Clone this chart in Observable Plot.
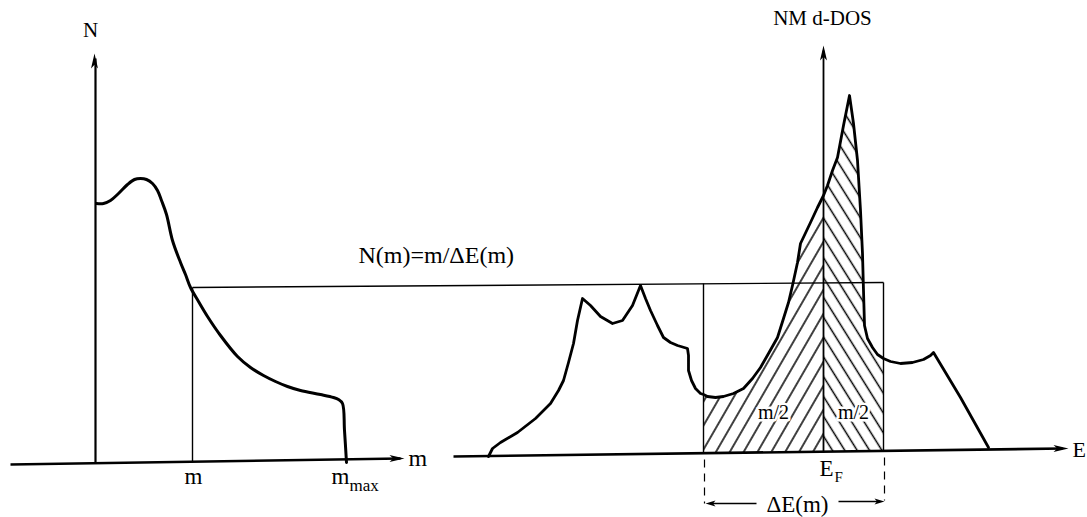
<!DOCTYPE html>
<html><head><meta charset="utf-8">
<script src="https://cdn.jsdelivr.net/npm/d3@7"></script>
<script src="https://cdn.jsdelivr.net/npm/@observablehq/plot@0.6"></script>
<style>html,body{margin:0;padding:0;background:#fff;} svg{display:block;}</style>
</head><body><div id="chart"></div>
<script>
// Schematic in diagram units (x to the right, y measured downward from the top)
// Left panel: N(m) curve
const leftCurveX = [96,103,110,118,127,134,140,146,152,157,161,166,172,180,185,190,198,207,220,237,250,263,275,287,300,320,333,338,342,344,346];
const leftCurveY = [203,203,200,193,184,179,178,179,183,190,200,214,240,262,274,287,301,316,335,356,367,375,381,386,390,394,397,399,403,430,462];
// Right panel: NM d-DOS curve
const dosX = [488,492,500,517,535,550,558,563,568,573,577,582,590,600,612,622,632,640,645,650,657,663,670,677,687,688,688,691,695,700,703,707,715,723,733,743,752,760,768,777,783,788,792,797,800,810,817,823,827,832,837,843,849,853,857,860,862,863,864,867,872,877,883,890,900,912,923,930,933,960,988];
const dosY = [456,448,442,432,418,403,390,380,362,343,320,298,305,316,323,320,305,285,298,310,325,337,342,345,348,355,370,380,388,393,394,396,397,396,393,388,378,367,353,337,318,302,285,262,243,222,207,195,185,170,157,125,95,123,160,210,253,290,325,338,347,354,358,361,363,362,359,355,352,397,447];
// window ΔE(m) and Fermi level
const winLeft = 703, fermi = 823, winRight = 883;
// axes / baselines
const leftBase = {x1: 10, y1: 464, x2: 400, y2: 458};
const rightBase = {x1: 453, y1: 456, x2: 1062, y2: 448};
const leftAxis = {x1: 95, y1: 462, x2: 95, y2: 58};
const rightAxis = {x1: 823, y1: 452, x2: 823, y2: 50};
// thin construction lines
const thinX1 = [192, 192, 703, 883];
const thinY1 = [287, 287, 283, 282];
const thinX2 = [883, 192, 703, 883];
const thinY2 = [282, 462, 453, 450];
// dashed drop lines
const dashX = [704, 884], dashY1 = [459, 457], dashY2 = [503, 500];
// ΔE arrows
const dArrX1 = [756, 838], dArrX2 = [711, 878], dArrY = [503, 501];
// arrow tips
const bigTipX = [94, 823, 404, 1068], bigTipY = [53, 45, 458, 448], bigTipRot = [0, 0, 90, 90];
const smallTipX = [705, 884], smallTipY = [503, 501], smallTipRot = [-90, 90];

const pts = (xs, ys) => xs.map((x, i) => ({x, y: ys[i]}));
const leftCurve = pts(leftCurveX, leftCurveY);
const dos = pts(dosX, dosY);
const baseAt = x => rightBase.y1 + (x - rightBase.x1) * (rightBase.y2 - rightBase.y1) / (rightBase.x2 - rightBase.x1);
const hatchL = dos.filter(d => d.x >= winLeft && d.x <= fermi).map(d => ({...d, b: baseAt(d.x)}));
const hatchR = dos.filter(d => d.x >= fermi && d.x <= winRight).map(d => ({...d, b: baseAt(d.x)}));

const dart = (L, W) => ({draw(ctx) { ctx.moveTo(0, 0); ctx.lineTo(W / 2, L); ctx.lineTo(0, L * 0.75); ctx.lineTo(-W / 2, L); ctx.closePath(); }});
const font = "Liberation Serif, Times New Roman, serif";
const label = (t, x, y, size, anchor = "middle", extra = {}) =>
  Plot.text([t], {x: () => x, y: () => y, text: d => d, fontSize: size, textAnchor: anchor, lineAnchor: "bottom", fontFamily: font, fill: "black", ...extra});
const seg = (s, w) => Plot.link([s], {x1: "x1", y1: "y1", x2: "x2", y2: "y2", stroke: "black", strokeWidth: w});

const chart = Plot.plot({
  width: 1087, height: 517, margin: 0,
  x: {domain: [0, 1087], range: [0, 1087], axis: null},
  y: {domain: [0, 517], range: [0, 517], axis: null},
  style: {background: "white"},
  marks: [
    Plot.areaY(hatchL, {x: "x", y1: "b", y2: "y", fill: "url(#hatchF)", curve: "linear"}),
    Plot.areaY(hatchR, {x: "x", y1: "b", y2: "y", fill: "url(#hatchB)", curve: "linear"}),
    Plot.link(thinX1.map((x, i) => i), {x1: i => thinX1[i], y1: i => thinY1[i], x2: i => thinX2[i], y2: i => thinY2[i], stroke: "black", strokeWidth: 1.4}),
    Plot.link(dashX.map((x, i) => i), {x1: i => dashX[i], y1: i => dashY1[i], x2: i => dashX[i], y2: i => dashY2[i], stroke: "black", strokeWidth: 1.2, strokeDasharray: "8,6"}),
    Plot.link(dArrX1.map((x, i) => i), {x1: i => dArrX1[i], y1: i => dArrY[i], x2: i => dArrX2[i], y2: i => dArrY[i], stroke: "black", strokeWidth: 1.6}),
    seg(leftBase, 2.6), seg(rightBase, 2.6), seg(leftAxis, 2.2), seg(rightAxis, 1.8),
    Plot.line(leftCurve, {x: "x", y: "y", stroke: "black", strokeWidth: 3, curve: "catmull-rom"}),
    Plot.line(dos, {x: "x", y: "y", stroke: "black", strokeWidth: 2.8, curve: "linear", strokeLinejoin: "round"}),
    Plot.dot(bigTipX.map((x, i) => i), {x: i => bigTipX[i], y: i => bigTipY[i], rotate: i => bigTipRot[i], symbol: dart(15, 7), r: 5, fill: "black", stroke: "none"}),
    Plot.dot(smallTipX.map((x, i) => i), {x: i => smallTipX[i], y: i => smallTipY[i], rotate: i => smallTipRot[i], symbol: dart(10, 6), r: 4, fill: "black", stroke: "none"}),
    label("N", 90, 36, 21),
    label("m", 408, 465, 24, "start"),
    label("m", 193, 483, 23),
    label("m", 340, 483, 23),
    label("max", 349, 490, 17, "start"),
    label("N(m)=m/\u0394E(m)", 358, 262, 24, "start"),
    label("NM d-DOS", 822, 24, 21),
    label("E", 1072, 456, 22, "start"),
    label("m/2", 773, 418, 20, "middle", {stroke: "white", strokeWidth: 5}),
    label("m/2", 853, 418, 20, "middle", {stroke: "white", strokeWidth: 5}),
    label("E", 826, 475, 23),
    label("F", 834, 481, 15, "start"),
    label("\u0394E(m)", 797, 511, 23)
  ]
});

const ns = "http://www.w3.org/2000/svg";
const defs = document.createElementNS(ns, "defs");
[["hatchF", 12, 30], ["hatchB", 10.5, -32]].forEach(([id, w, rot]) => {
  const p = document.createElementNS(ns, "pattern");
  p.setAttribute("id", id);
  p.setAttribute("patternUnits", "userSpaceOnUse");
  p.setAttribute("width", w);
  p.setAttribute("height", 20);
  p.setAttribute("patternTransform", `rotate(${rot})`);
  const l = document.createElementNS(ns, "line");
  l.setAttribute("x1", w / 2); l.setAttribute("x2", w / 2);
  l.setAttribute("y1", -1); l.setAttribute("y2", 21);
  l.setAttribute("stroke", "black"); l.setAttribute("stroke-width", 1.5);
  p.appendChild(l);
  defs.appendChild(p);
});
chart.insertBefore(defs, chart.firstChild);
document.getElementById("chart").appendChild(chart);
</script>
</body></html>
